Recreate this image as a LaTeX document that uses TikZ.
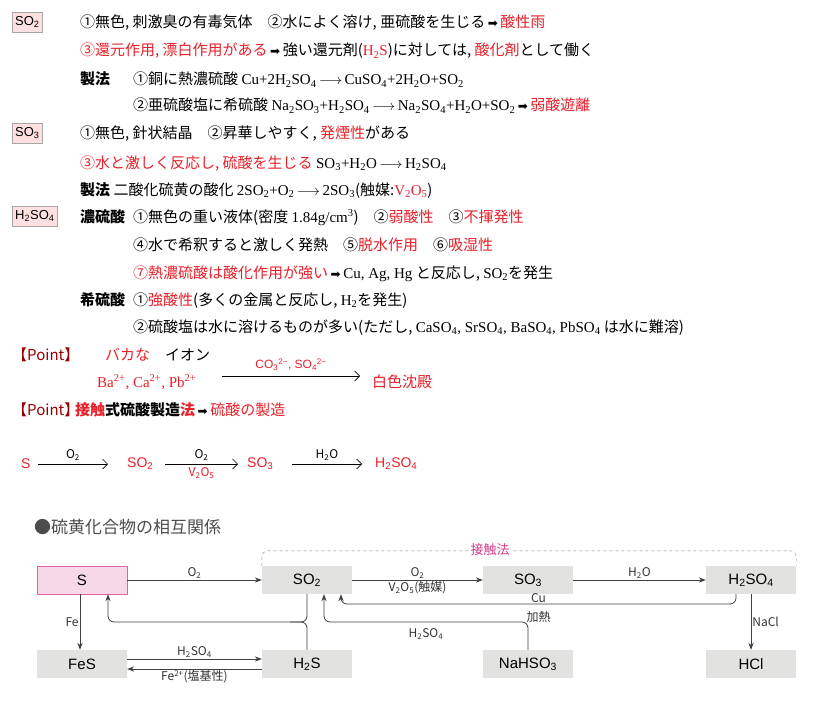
\documentclass[tikz,border=0pt]{standalone}
\usepackage{fontspec}
\setmainfont{Noto Sans CJK JP}
\newfontfamily\latf{Liberation Serif}
\newfontfamily\sanf{Liberation Sans}
\newfontfamily\dsym{DejaVu Sans}
\usetikzlibrary{arrows.meta,calc}
\definecolor{rd}{HTML}{E8202A}
\definecolor{pk}{HTML}{D63C8C}
\definecolor{bx}{HTML}{E2E2E0}
\newcommand\cf[1]{{\latf #1}}
\newcommand\sbs[1]{\textsubscript{#1}}
\newcommand\rr[1]{\textcolor{rd}{#1}}
\newcommand\ar{\,{\dsym\fontsize{12}{12}\selectfont ➡}\,}
\newcommand\lar{\,$\longrightarrow$\,}
\begin{document}
\begin{tikzpicture}[x=1pt,y=-1pt,
  tx/.style={anchor=base west,inner sep=0pt,font=\fontsize{15}{17}\selectfont},
  tag/.style={draw=gray!70,fill=red!12,inner sep=3pt,minimum height=20pt,font=\sanf\fontsize{13}{14}\selectfont},
  bb/.style={fill=bx,minimum width=90pt,minimum height=28pt,inner sep=0pt,font=\sanf\fontsize{15}{16}\selectfont},
  lb/.style={font=\fontsize{12}{13}\selectfont,text=black!80,inner sep=1pt},
  rx/.style={font=\sanf\fontsize{14}{15}\selectfont,text=rd,inner sep=1pt},
  arr/.style={-{Stealth[length=7pt]},thick,black!75},
  ra/.style={-{Straight Barb[length=5pt]},semithick}]
\useasboundingbox (0,0) rectangle (827,706);
% --- SO2
\node[tag,anchor=west] (t1) at (12,22) {SO\sbs{2}};
\node[tx] (a1) at (80,28) {①無色, 刺激臭の有毒気体\quad ②水によく溶け, 亜硫酸を生じる\ar\rr{酸性雨}};
\node[tx] (a2) at (80,56) {\rr{③還元作用, 漂白作用がある}\ar 強い還元剤(\rr{\cf{H\sbs{2}S}})に対しては, \rr{酸化剤}として働く};
\node[tx] (a3) at (80,85) {\textbf{製法}};
\node[tx] (a4) at (133,85) {①銅に熱濃硫酸 \cf{Cu+2H\sbs{2}SO\sbs{4}\lar CuSO\sbs{4}+2H\sbs{2}O+SO\sbs{2}}};
\node[tx] (a5) at (133,111) {②亜硫酸塩に希硫酸 \cf{Na\sbs{2}SO\sbs{3}+H\sbs{2}SO\sbs{4}\lar Na\sbs{2}SO\sbs{4}+H\sbs{2}O+SO\sbs{2}}\ar\rr{弱酸遊離}};
% --- SO3
\node[tag,anchor=west] (t2) at (12,133) {SO\sbs{3}};
\node[tx] (b1) at (80,139) {①無色, 針状結晶\quad ②昇華しやすく, \rr{発煙性}がある};
\node[tx] (b2) at (80,168) {\rr{③水と激しく反応し, 硫酸を生じる} \cf{SO\sbs{3}+H\sbs{2}O\lar H\sbs{2}SO\sbs{4}}};
\node[tx] (b3) at (80,195) {\textbf{製法} 二酸化硫黄の酸化 \cf{2SO\sbs{2}+O\sbs{2}\lar 2SO\sbs{3}}(触媒:\rr{\cf{V\sbs{2}O\sbs{5}}})};
% --- H2SO4
\node[tag,anchor=west] (t3) at (12,216) {H\sbs{2}SO\sbs{4}};
\node[tx] (c0) at (80,222) {\textbf{濃硫酸}};
\node[tx] (c1) at (133,222) {①無色の重い液体(密度 \cf{1.84g/cm\textsuperscript{3}})\quad ②\rr{弱酸性}\quad ③\rr{不揮発性}};
\node[tx] (c2) at (133,250) {④水で希釈すると激しく発熱\quad ⑤\rr{脱水作用}\quad ⑥\rr{吸湿性}};
\node[tx] (c3) at (133,278) {\rr{⑦熱濃硫酸は酸化作用が強い}\ar \cf{Cu, Ag, Hg} と反応し, \cf{SO\sbs{2}}を発生};
\node[tx] (c4) at (80,305) {\textbf{希硫酸}};
\node[tx] (c5) at (133,305) {①\rr{強酸性}(多くの金属と反応し, \cf{H\sbs{2}}を発生)};
\node[tx] (c6) at (133,332) {②硫酸塩は水に溶けるものが多い(ただし, \cf{CaSO\sbs{4}, SrSO\sbs{4}, BaSO\sbs{4}, PbSO\sbs{4}} は水に難溶)};
% --- Point
\node[tx,text=red!60!black] (p1) at (12,360) {【Point】};
\node[tx] (p2) at (105,360) {\rr{バカな}\quad イオン};
\node[tx,text=rd] (p3) at (97,387) {\cf{Ba\textsuperscript{2+}, Ca\textsuperscript{2+}, Pb\textsuperscript{2+}}};
\coordinate (q1) at (222,376); \coordinate (q2) at (360,376);
\draw[ra] (q1) -- node[above=2pt,text=rd,font=\sanf\fontsize{12}{13}\selectfont]{CO\sbs{3}\textsuperscript{2−}, SO\sbs{4}\textsuperscript{2−}} (q2);
\node[tx,text=rd] (p4) at (372,387) {白色沈殿};
\node[tx,text=red!60!black] (p5) at (12,415) {【Point】};
\node[tx] (p6) at (75,415) {\textbf{\rr{接触}式硫酸製造\rr{法}}\ar\rr{硫酸の製造}};
% --- reaction row
\node[rx,anchor=west] (r1) at (20,464) {S};
\node[rx,anchor=west] (r2) at (126,464) {SO\sbs{2}};
\node[rx,anchor=west] (r3) at (246,464) {SO\sbs{3}};
\node[rx,anchor=west] (r4) at (374,464) {H\sbs{2}SO\sbs{4}};
\draw[ra] (38,464) -- node[above=2pt,lb,text=black]{O\sbs{2}} (108,464);
\draw[ra] (165,464) -- node[above=2pt,lb,text=black]{O\sbs{2}} node[below=2pt,lb,text=rd]{V\sbs{2}O\sbs{5}} (238,464);
\draw[ra] (292,464) -- node[above=2pt,lb,text=black]{H\sbs{2}O} (362,464);
% --- bottom diagram
\node[anchor=west,inner sep=0pt,text=black!70,font=\fontsize{17}{18}\selectfont] (ttl) at (34,527) {●硫黄化合物の相互関係};
\node[bb,fill=pk!20,draw=pk!80] (S) at (82,580) {S};
\node[bb] (SO2) at (307,580) {SO\sbs{2}};
\node[bb] (SO3) at (528,580) {SO\sbs{3}};
\node[bb] (H) at (751,580) {H\sbs{2}SO\sbs{4}};
\node[bb] (FeS) at (82,664) {FeS};
\node[bb] (H2S) at (307,664) {H\sbs{2}S};
\node[bb] (Na) at (528,664) {NaHSO\sbs{3}};
\node[bb] (HCl) at (751,664) {HCl};
\draw[dashed,gray,thin,rounded corners=6pt] (SO2.north west) -- ++(0,-15) -- ($(H.north east)+(0,-15)$) -- (H.north east);
\node[fill=white,text=pk,font=\fontsize{13}{14}\selectfont,inner sep=2pt] (sh) at (490,550) {接触法};
\draw[arr] (S) -- node[above,lb]{O\sbs{2}} (SO2);
\draw[arr] (SO2) -- node[above,lb]{O\sbs{2}} node[below,lb]{V\sbs{2}O\sbs{5}(触媒)} (SO3);
\draw[arr] (SO3) -- node[above,lb]{H\sbs{2}O} (H);
\draw[arr,rounded corners=6pt] (H.south -| 736,0) -- (736,604) -- node[above,lb]{Cu} node[below=6pt,lb]{加熱} (341,604) -- (SO2.south -| 341,0);
\draw[arr,rounded corners=6pt] (Na.north) -- (528,622) -- node[below=5pt,lb]{H\sbs{2}SO\sbs{4}} (324,622) -- (SO2.south -| 324,0);
\draw[arr,rounded corners=6pt] (SO2.south -| 307,0) -- (307,622) -- (108,622) -- (S.south -| 108,0);
\draw[thick,black!75,rounded corners=6pt] (H2S.north) -- (307,622) -- (290,622);
\draw[arr] (S.south -| 80,0) -- node[left,lb]{Fe} (FeS.north -| 80,0);
\draw[arr] ([yshift=5pt]FeS.east) -- node[above,lb]{H\sbs{2}SO\sbs{4}} ([yshift=5pt]H2S.west);
\draw[arr] ([yshift=-5pt]H2S.west) -- node[below,lb]{Fe\textsuperscript{2+}(塩基性)} ([yshift=-5pt]FeS.east);
\draw[arr] (H) -- node[right,lb]{NaCl} (HCl);
\end{tikzpicture}
\end{document}
